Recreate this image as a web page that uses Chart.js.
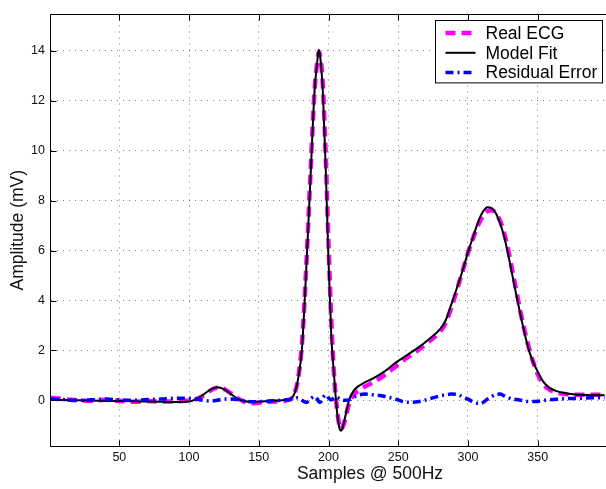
<!DOCTYPE html>
<html>
<head>
<meta charset="utf-8">
<script src="https://cdn.jsdelivr.net/npm/chart.js@4"></script>
<style>
  html, body { margin: 0; padding: 0; background: #fff; }
  #ecgChart { display: block; }
</style>
</head>
<body>
<canvas id="ecgChart" width="606" height="489"></canvas>
<script>
// one beat, sample index @ 500 Hz
const samples = [
  1, 10, 20, 30, 40, 50, 60, 70, 80, 90,
  100, 105, 110, 115, 120, 125, 130, 135, 140, 145,
  150, 160, 170, 175, 178, 181, 184, 187, 190, 192,
  193, 194, 196, 198, 200, 202, 204, 206, 208, 209,
  211, 213, 215, 218, 221, 226, 232, 240, 248, 256,
  264, 272, 280, 284, 288, 292, 296, 300, 304, 308,
  311, 314, 317, 320, 323, 326, 329, 332, 335, 338,
  341, 344, 347, 350, 354, 358, 363, 370, 380, 390,
  398
];

const realEcg = [
  0.10, 0.05, 0.00, -0.02, 0.02, -0.02, -0.06, -0.03, -0.05, -0.04,
  0.00, 0.05, 0.18, 0.38, 0.50, 0.46, 0.28, 0.08, -0.06, -0.12,
  -0.10, -0.05, 0.00, 0.20, 0.80, 2.30, 5.30, 9.00, 12.40, 13.60,
  13.95, 13.80, 12.60, 9.80, 6.30, 3.20, 1.00, -0.30, -1.05, -1.15,
  -0.95, -0.50, -0.10, 0.20, 0.38, 0.55, 0.72, 1.00, 1.35, 1.70,
  2.00, 2.35, 2.75, 3.10, 3.70, 4.40, 5.15, 5.90, 6.55, 7.10,
  7.40, 7.58, 7.62, 7.50, 7.20, 6.70, 6.00, 5.15, 4.30, 3.45,
  2.70, 2.05, 1.50, 1.05, 0.65, 0.45, 0.32, 0.25, 0.22, 0.22,
  0.22
];

const modelFit = [
  0.02, 0.01, 0.00, -0.01, -0.02, -0.03, -0.04, -0.05, -0.06, -0.07,
  -0.05, 0.05, 0.22, 0.42, 0.52, 0.45, 0.25, 0.06, -0.04, -0.06,
  -0.05, -0.02, 0.02, 0.20, 0.80, 2.10, 5.20, 8.80, 12.40, 13.60,
  14.05, 13.80, 12.30, 9.30, 5.60, 2.60, 1.00, -0.40, -1.15, -1.22,
  -0.90, -0.40, 0.05, 0.38, 0.55, 0.72, 0.88, 1.15, 1.50, 1.80,
  2.10, 2.45, 2.85, 3.20, 3.83, 4.49, 5.17, 5.93, 6.60, 7.25,
  7.58, 7.74, 7.70, 7.50, 7.10, 6.55, 5.80, 4.97, 4.13, 3.35,
  2.60, 1.95, 1.50, 1.15, 0.75, 0.52, 0.38, 0.28, 0.22, 0.20,
  0.20
];

const residualError = [
  0.05, 0.03, 0.00, 0.02, 0.05, 0.02, 0.00, 0.03, 0.05, 0.08,
  0.08, 0.05, 0.00, -0.03, 0.00, 0.05, 0.05, 0.03, -0.03, -0.06,
  -0.05, -0.02, 0.02, 0.05, 0.10, 0.00, -0.08, 0.05, 0.15, 0.05,
  -0.05, -0.08, 0.10, 0.22, 0.10, 0.02, 0.10, 0.12, 0.06, 0.03,
  0.00, 0.00, 0.03, 0.12, 0.20, 0.25, 0.22, 0.16, 0.05, -0.08,
  -0.06, 0.05, 0.18, 0.22, 0.25, 0.24, 0.15, 0.05, -0.07, -0.13,
  -0.08, 0.05, 0.15, 0.24, 0.25, 0.18, 0.10, 0.05, 0.03, 0.00,
  -0.03, -0.05, -0.05, -0.04, -0.01, 0.02, 0.04, 0.07, 0.08, 0.10,
  0.10
];

const xTickValues = [50, 100, 150, 200, 250, 300, 350];
const yTickValues = [0, 2, 4, 6, 8, 10, 12, 14];
const xTitle = 'Samples @ 500Hz';

const FONT = "'Liberation Sans', Arial, Helvetica, sans-serif";

function toPoints(ys) {
  return samples.map((x, i) => ({ x: x, y: ys[i] }));
}

// matlab-style box: frame on top/left/bottom plus inward tick marks
const axesFrame = {
  id: 'axesFrame',
  afterDatasetsDraw(chart) {
    const { ctx, chartArea: a, scales } = chart;
    const L = Math.round(a.left) - 0.5, T = Math.round(a.top) + 0.5;
    const B = Math.round(a.bottom) - 0.5, R = a.right + 2;
    const tick = 6;
    ctx.save();
    ctx.strokeStyle = '#000';
    ctx.lineWidth = 1;
    ctx.setLineDash([]);
    ctx.beginPath();
    ctx.moveTo(R, T); ctx.lineTo(L, T); ctx.lineTo(L, B); ctx.lineTo(R, B);
    xTickValues.forEach(v => {
      const px = Math.round(scales.x.getPixelForValue(v)) + 0.5;
      ctx.moveTo(px, B); ctx.lineTo(px, B - tick);
      ctx.moveTo(px, T); ctx.lineTo(px, T + tick);
    });
    yTickValues.forEach(v => {
      const py = Math.round(scales.y.getPixelForValue(v)) + 0.5;
      ctx.moveTo(L, py); ctx.lineTo(L + tick, py);
    });
    ctx.stroke();

    // x label sits centred under the full axes, which run past the right edge
    ctx.fillStyle = '#111';
    ctx.font = '17.5px ' + FONT;
    ctx.textAlign = 'center';
    ctx.textBaseline = 'middle';
    ctx.fillText(xTitle, 370, 474);
    ctx.restore();
  }
};

// boxed legend in the top right corner of the plot
const boxLegend = {
  id: 'boxLegend',
  afterDraw(chart) {
    const { ctx, chartArea: a } = chart;
    const w = 167, rowH = 19.8;
    const right = Math.round(a.right) - 3.5;
    const top = Math.round(a.top) + 6.5;
    const left = right - w;
    const h = rowH * chart.data.datasets.length + 3;
    ctx.save();
    ctx.fillStyle = '#fff';
    ctx.fillRect(left, top, w, h);
    ctx.strokeStyle = '#000';
    ctx.lineWidth = 1;
    ctx.setLineDash([]);
    ctx.strokeRect(left, top, w, h);
    ctx.font = '17.5px ' + FONT;
    ctx.textBaseline = 'middle';
    ctx.textAlign = 'left';
    chart.data.datasets.forEach((ds, i) => {
      const y = top + 12.5 + i * rowH;
      ctx.strokeStyle = ds.borderColor;
      ctx.lineWidth = ds.borderWidth;
      ctx.setLineDash(ds.borderDash || []);
      ctx.beginPath();
      ctx.moveTo(left + 10, y);
      ctx.lineTo(left + 40, y);
      ctx.stroke();
      ctx.fillStyle = '#000';
      ctx.fillText(ds.label, left + 50, y + 1);
    });
    ctx.restore();
  }
};

const gridStyle = { color: 'rgba(0,0,0,0.5)', lineWidth: 1, drawTicks: false };
const gridDash = { display: false, dash: [1, 5] };

new Chart(document.getElementById('ecgChart'), {
  type: 'scatter',
  data: {
    datasets: [
      {
        label: 'Real ECG',
        data: toPoints(realEcg),
        showLine: true,
        borderColor: '#ff00ff',
        borderWidth: 4.5,
        borderDash: [10, 6],
        pointRadius: 0,
        cubicInterpolationMode: 'monotone',
        order: 3
      },
      {
        label: 'Model Fit',
        data: toPoints(modelFit),
        showLine: true,
        borderColor: '#000000',
        borderWidth: 2,
        pointRadius: 0,
        cubicInterpolationMode: 'monotone',
        order: 2
      },
      {
        label: 'Residual Error',
        data: toPoints(residualError),
        showLine: true,
        borderColor: '#0000ff',
        borderWidth: 3.5,
        borderDash: [8, 4, 2, 4],
        pointRadius: 0,
        cubicInterpolationMode: 'monotone',
        order: 1
      }
    ]
  },
  options: {
    responsive: false,
    animation: false,
    devicePixelRatio: 1,
    layout: { padding: { top: 4, right: 0, left: 0, bottom: 0 } },
    plugins: {
      legend: { display: false },
      tooltip: { enabled: false }
    },
    scales: {
      x: {
        type: 'linear',
        min: 1,
        max: 399,
        grid: gridStyle,
        border: gridDash,
        afterBuildTicks: s => { s.ticks = xTickValues.map(v => ({ value: v })); },
        afterFit: s => { s.height = 42; },
        ticks: { color: '#111', padding: 3, maxRotation: 0, font: { family: FONT, size: 12.5 } },
        title: { display: false }
      },
      y: {
        type: 'linear',
        min: -1.87,
        max: 15.5,
        grid: gridStyle,
        border: gridDash,
        afterBuildTicks: s => { s.ticks = yTickValues.map(v => ({ value: v })); },
        afterFit: s => { s.width = 51; },
        ticks: { color: '#111', padding: 6, font: { family: FONT, size: 12.5 } },
        title: {
          display: true,
          text: 'Amplitude (mV)',
          color: '#111',
          padding: { top: 8, bottom: 0 },
          font: { family: FONT, size: 17.5 }
        }
      }
    }
  },
  plugins: [axesFrame, boxLegend]
});
</script>
</body>
</html>
